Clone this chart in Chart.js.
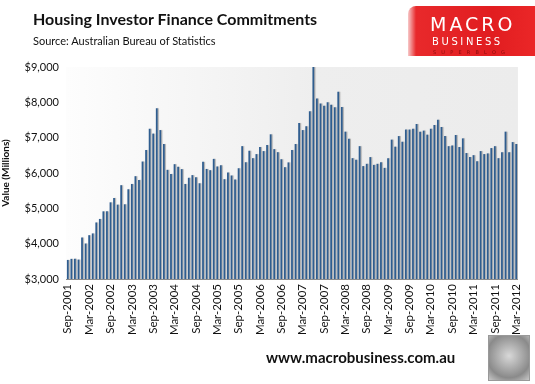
<!DOCTYPE html>
<html>
<head>
<meta charset="utf-8">
<script src="https://cdn.jsdelivr.net/npm/chart.js@4"></script>
<style>
  body { margin: 0; background: #fff; font-family: Lato, "Open Sans", sans-serif; }
  #wrap { position: relative; width: 535px; height: 384px; overflow: hidden; }
  #chart { position: absolute; left: 0; top: 0; }
  .title { position: absolute; left: 33px; top: 9px; font-size: 16px; font-weight: bold; color: #111; }
  .source { position: absolute; left: 33px; top: 34px; font-size: 11px; color: #111; }
  .logo { position: absolute; left: 408px; top: 6px; width: 140px; height: 50px;
          background: linear-gradient(90deg, #f7c9c9 0px, #e8292b 8px, #e11d20 60%, #ee2a2a 100%);
          border-top-left-radius: 8px; color: #fff; }
  .logo .m { position: absolute; left: 22px; top: 7px; font-size: 19px; letter-spacing: 3px; font-family: "DejaVu Sans", sans-serif; font-weight: normal; }
  .logo .b { position: absolute; left: 24px; top: 30px; font-size: 10px; letter-spacing: 2.6px; font-family: "DejaVu Sans", sans-serif; }
  .logo .s { position: absolute; left: 25px; top: 43px; font-size: 5px; letter-spacing: 5.2px; color: #8a0c0c; font-family: "DejaVu Sans", sans-serif; }
  .footer { position: absolute; left: 266px; top: 348px; font-size: 15px; font-weight: bold; color: #111; }
  .wolf { position: absolute; left: 488px; top: 335px; width: 40px; height: 44px; border: 1px solid #999;
          background: radial-gradient(circle at 50% 45%, #d8d8d8, #8a8a8a 70%, #c8c8c8); }
</style>
</head>
<body>
<div id="wrap">
  <canvas id="chart" width="535" height="384"></canvas>
  <div class="title">Housing Investor Finance Commitments</div>
  <div class="source">Source: Australian Bureau of Statistics</div>
  <div class="logo"><span class="m">MACRO</span><span class="b">BUSINESS</span><span class="s">SUPERBLOG</span></div>
  <div class="footer">www.macrobusiness.com.au</div>
  <div class="wolf"></div>
</div>
<script>
// monthly values, $ millions (Sep 2001 - Mar 2012)
const v2001 = [3540, 3570, 3570, 3550];
const v2002 = [4175, 4005, 4240, 4290, 4600, 4700, 4915, 4915, 5170, 5295, 5105, 5655];
const v2003 = [5115, 5540, 5690, 5910, 5805, 6325, 6650, 7255, 7115, 7835, 7215, 6820];
const v2004 = [6090, 5975, 6250, 6175, 6110, 5690, 5865, 5940, 5880, 5710, 6315, 6115];
const v2005 = [6080, 6400, 6185, 6220, 5825, 6015, 5930, 5815, 6135, 6760, 6305, 6630];
const v2006 = [6420, 6535, 6735, 6620, 6790, 7095, 6675, 6590, 6390, 6165, 6300, 6650];
const v2007 = [6820, 7415, 7215, 7320, 7750, 9000, 8110, 7965, 7900, 8005, 7930, 7860];
const v2008 = [8300, 7870, 7170, 6970, 6420, 6375, 6760, 6195, 6260, 6450, 6230, 6260];
const v2009 = [6305, 6145, 6420, 6945, 6745, 7045, 6885, 7230, 7230, 7255, 7390, 7170];
const v2010 = [7200, 7085, 7255, 7360, 7510, 7300, 7045, 6760, 6780, 7075, 6735, 6980];
const v2011 = [6565, 6450, 6505, 6335, 6620, 6535, 6555, 6705, 6760, 6420, 6590, 7170];
const v2012 = [6590, 6875, 6820];

const values = [].concat(v2001, v2002, v2003, v2004, v2005, v2006, v2007, v2008, v2009, v2010, v2011, v2012);

const monthNames = ['Jan', 'Feb', 'Mar', 'Apr', 'May', 'Jun', 'Jul', 'Aug', 'Sep', 'Oct', 'Nov', 'Dec'];
const labels = [];
for (let i = 0; i < values.length; i++) {
  const m = (8 + i) % 12;
  const y = 2001 + Math.floor((8 + i) / 12);
  labels.push(monthNames[m] + '-' + y);
}

const yTicks = [3000, 4000, 5000, 6000, 7000, 8000, 9000];

const plotBg = {
  id: 'plotBg',
  beforeDatasetsDraw(chart) {
    const { ctx, chartArea: a } = chart;
    const g = ctx.createLinearGradient(a.left, 0, a.right, 0);
    g.addColorStop(0, '#fdfdfd');
    g.addColorStop(0.55, '#eeeeee');
    g.addColorStop(1, '#ececec');
    ctx.save();
    ctx.fillStyle = g;
    ctx.fillRect(a.left, a.top, a.right - a.left, a.bottom - a.top);
    ctx.shadowColor = 'rgba(90,90,90,0.45)';
    ctx.shadowOffsetX = 1.2;
    ctx.shadowBlur = 0.8;
  },
  afterDatasetsDraw(chart) {
    chart.ctx.restore();
  }
};

new Chart(document.getElementById('chart'), {
  type: 'bar',
  data: {
    labels: labels,
    datasets: [{
      data: values,
      backgroundColor: '#2f5d8f',
      borderWidth: 0,
      barPercentage: 0.5,
      categoryPercentage: 1.0
    }]
  },
  options: {
    responsive: false,
    animation: false,
    layout: { padding: { top: 67, right: 10, left: 0, bottom: 0 } },
    plugins: { legend: { display: false }, tooltip: { enabled: false } },
    scales: {
      x: {
        grid: { display: true, drawOnChartArea: false, drawTicks: false },
        border: { display: true, color: '#8c8c8c', width: 1 },
        afterFit(scale) { scale.height = 105; },
        ticks: {
          autoSkip: false,
          minRotation: 90,
          maxRotation: 90,
          padding: 5,
          color: '#111',
          font: { family: 'Lato, "Open Sans", sans-serif', size: 11.5 },
          callback(val, i) { return i % 6 === 0 ? labels[i] : ''; }
        }
      },
      y: {
        min: 3000,
        max: 9000,
        afterFit(scale) { scale.width = 66; },
        afterBuildTicks(scale) { scale.ticks = yTicks.map(v => ({ value: v })); },
        grid: { display: true, drawOnChartArea: false, drawTicks: false },
        border: { display: true, color: '#8c8c8c', width: 1 },
        title: {
          display: true,
          text: 'Value (Millions)',
          color: '#111',
          padding: { top: 0, bottom: 4 },
          font: { family: 'Lato, "Open Sans", sans-serif', size: 10, weight: 'bold' }
        },
        ticks: {
          padding: 7,
          color: '#111',
          font: { family: 'Lato, "Open Sans", sans-serif', size: 11 },
          callback(v) { return '$' + v.toLocaleString('en-US'); }
        }
      }
    }
  },
  plugins: [plotBg]
});
</script>
</body>
</html>
